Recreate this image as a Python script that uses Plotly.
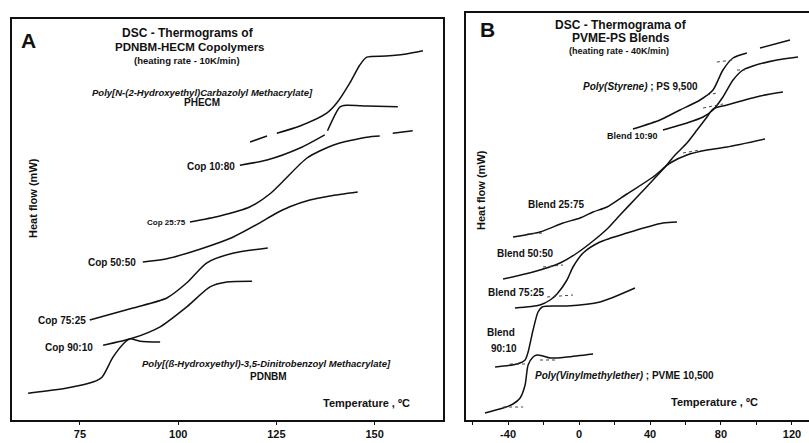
import plotly.graph_objects as go

# ---------------- Panel A : PDNBM / HECM copolymers (temperature in degC, heat flow arbitrary) ----
pdnbm_T = [61.8, 71.7, 78.3, 80.6, 83.4, 86.5, 87.7, 90.3, 95.4]
pdnbm_H = [6.2, 7.5, 9.0, 10.2, 15.2, 19.0, 19.8, 19.2, 19.0]

cop9010_T = [80.9, 88.5, 95.4, 102.2, 108.1, 112.4, 118.8]
cop9010_H = [18.2, 20.0, 22.8, 27.8, 32.8, 34.0, 34.2]

cop7525_T = [77.5, 88.5, 97.1, 102.2, 107.3, 113.9, 122.8]
cop7525_H = [24.5, 27.5, 30.0, 33.8, 38.8, 41.2, 42.5]

cop5050_T = [91.0, 97.1, 105.5, 113.9, 120.8, 124.6, 128.4, 133.5, 138.6, 145.7]
cop5050_H = [39.0, 39.8, 42.2, 45.2, 48.8, 51.0, 52.8, 54.5, 55.5, 56.5]

cop2575_T = [103.0, 110.6, 118.3, 123.3, 126.7, 132.8, 139.4, 148.0, 151.3, None, 154.6, 159.7]
cop2575_H = [49.0, 50.5, 52.8, 56.0, 59.2, 65.0, 68.2, 70.2, 70.5, None, 71.2, 71.8]

cop1080_T = [115.7, 122.6, 131.0, 137.3, None, 138.0, 141.2, 142.9, 148.0, 155.9]
cop1080_H = [63.2, 64.5, 67.5, 70.8, None, 71.8, 77.8, 78.2, 78.0, 77.8]

phecm_T = [118.3, 122.6, None, 125.1, 131.0, 137.8, 140.4, 143.7, 146.2, 148.0, 152.9, 158.0, 162.3]
phecm_H = [69.0, 70.5, None, 71.2, 73.0, 76.2, 78.8, 83.8, 88.2, 90.2, 90.5, 91.0, 91.8]

# ---------------- Panel B : PVME-PS blends ----------------
pvme_T = [-53.0, -42.8, -37.2, -33.2, -30.4, -28.7, -25.9, -23.7, -20.3, -16.3, -6.8, 7.9]
pvme_H = [1.75, 3.0, 4.0, 5.5, 8.75, 13.75, 15.75, 16.25, 16.0, 15.5, 15.75, 16.5]

b9010_T = [-47.3, -34.9, -30.4, -28.7, -25.9, -23.1, -20.8, -13.5, -6.8, 11.8, 31.5]
b9010_H = [13.25, 14.0, 15.0, 17.0, 22.5, 27.0, 28.25, 28.5, 28.5, 29.5, 33.0]

b7525_T = [-36.1, -22.0, -16.3, -12.4, -6.8, -3.4, 2.3, 11.8, 27.0, 47.3, 55.2]
b7525_H = [28.0, 28.75, 30.0, 31.5, 35.0, 38.25, 41.75, 44.5, 46.75, 49.25, 49.5]

b5050_T = [-42.8, -25.9, -10.7, -1.1, 7.9, 15.8, 23.1, 32.7, 41.7, 48.5, 54.1, 60.8, 66.5,
           72.1, 75.5, 83.4, 102.0, 114.9]
b5050_H = [35.25, 37.0, 39.25, 41.75, 44.75, 47.75, 51.25, 55.75, 60.0, 63.25, 66.25, 69.25,
           72.5, 75.75, 77.75, 78.75, 81.0, 82.0]

b2575_T = [-37.2, -22.0, -9.0, 0.6, 7.9, 15.8, 27.0, 41.7, 51.3, 60.8, 72.1, 83.4, 104.8]
b2575_H = [45.75, 47.0, 49.25, 50.5, 52.0, 53.25, 56.5, 60.75, 64.25, 66.25, 67.5, 68.25, 70.25]

b1090_T = [47.3, 60.8, 69.9, 75.5, 81.1, 86.8, 92.4, 98.0, 111.5, 123.4]
b1090_H = [72.5, 74.25, 75.75, 77.5, 80.75, 85.0, 87.5, 88.5, 90.0, 90.75]

ps_T = [30.4, 45.6, 56.9, 68.2, 75.5, 81.1, 86.8, 94.6, None, 102.0, 118.9]
ps_H = [72.75, 75.0, 77.5, 80.0, 82.5, 87.5, 90.5, 91.75, None, 93.0, 95.0]

# tangent (construction) lines drawn dotted in panel B
tang_T = [-42.8, -31.5, None, -22.0, -12.4, None, -38.9, -29.3, None, -18.0, -3.4, None,
          -20.3, -9.0, None, -29.3, -20.3, None, 58.6, 68.2, None, 69.9, 81.1, None,
          72.1, 77.7, None, 77.7, 86.8, None, 89.0, 93.5]
tang_H = [3.25, 3.25, None, 15.0, 15.0, None, 14.0, 14.0, None, 30.75, 31.25, None,
          38.25, 38.75, None, 46.5, 46.75, None, 66.75, 67.5, None, 78.0, 79.0, None,
          81.25, 81.75, None, 89.5, 90.0, None, 87.5, 87.5]

tickA = [75, 100, 125, 150]
tickB = [-40, 0, 40, 80, 120]
minorB = [-60, -20, 20, 60, 100]

W, H = 809, 443
FONT = "Liberation Sans, Arial, sans-serif"
INK = "#111111"

fig = go.Figure()

def curve(T, Hf, xa, ya):
    fig.add_trace(go.Scatter(x=T, y=Hf, mode="lines", xaxis=xa, yaxis=ya,
                             line=dict(color=INK, width=1.5, shape="spline", smoothing=0.7),
                             connectgaps=False, hoverinfo="skip"))

for T, Hf in [(pdnbm_T, pdnbm_H), (cop9010_T, cop9010_H), (cop7525_T, cop7525_H),
              (cop5050_T, cop5050_H), (cop2575_T, cop2575_H), (cop1080_T, cop1080_H),
              (phecm_T, phecm_H)]:
    curve(T, Hf, "x", "y")

for T, Hf in [(pvme_T, pvme_H), (b9010_T, b9010_H), (b7525_T, b7525_H), (b5050_T, b5050_H),
              (b2575_T, b2575_H), (b1090_T, b1090_H), (ps_T, ps_H)]:
    curve(T, Hf, "x2", "y2")

fig.add_trace(go.Scatter(x=tang_T, y=tang_H, mode="lines", xaxis="x2", yaxis="y2",
                         line=dict(color="#444", width=1, dash="dot"), connectgaps=False,
                         hoverinfo="skip"))

def px(x):
    return x / W

def py(y):
    return 1 - y / H

anns = []

def ann(text, x, y, size, xanchor="center", angle=0):
    anns.append(dict(text=text, x=px(x), y=py(y), xref="paper", yref="paper",
                     xanchor=xanchor, yanchor="middle", showarrow=False, textangle=angle,
                     font=dict(family=FONT, size=size, color=INK)))

# Panel A texts
ann("<b>A</b>", 28, 41, 21)
ann("<b>DSC - Thermograms of</b>", 188, 33, 12)
ann("<b>PDNBM-HECM Copolymers</b>", 190, 47, 11.5)
ann("<b>(heating rate - 10K/min)</b>", 187, 61, 9.5)
ann("<b><i>Poly[N-(2-Hydroxyethyl)Carbazolyl Methacrylate]</i></b>", 203, 92, 9.5)
ann("<b>PHECM</b>", 202, 103, 10)
ann("<b>Cop 10:80</b>", 237, 167, 10, "right")
ann("<b>Cop 25:75</b>", 188, 222, 8, "right")
ann("<b>Cop 50:50</b>", 138, 262, 10, "right")
ann("<b>Cop 75:25</b>", 88, 320, 10, "right")
ann("<b>Cop 90:10</b>", 95, 347, 10, "right")
ann("<b><i>Poly[(\u00df-Hydroxyethyl)-3,5-Dinitrobenzoyl Methacrylate]</i></b>", 266, 363, 9.5)
ann("<b>PDNBM</b>", 268, 376, 10)
ann("<b>Temperature , \u00baC</b>", 366, 403, 11)
ann("<b>Heat flow (mW)</b>", 33, 198, 11, angle=-90)

# Panel B texts
ann("<b>B</b>", 487, 30, 21)
ann("<b>DSC - Thermograma of</b>", 621, 25, 12)
ann("<b>PVME-PS Blends</b>", 621, 38, 12)
ann("<b>(heating rate - 40K/min)</b>", 619, 51, 9)
ann("<b><i>Poly(Styrene)</i> ; PS 9,500</b>", 700, 87, 10, "right")
ann("<b>Blend 10:90</b>", 632, 136, 9)
ann("<b>Blend 25:75</b>", 556, 204, 10)
ann("<b>Blend 50:50</b>", 525, 253, 10)
ann("<b>Blend 75:25</b>", 516, 292, 10)
ann("<b>Blend</b>", 501, 332, 10)
ann("<b>90:10</b>", 504, 348, 10)
ann("<b><i>Poly(Vinylmethylether)</i> ; PVME 10,500</b>", 533, 375, 10, "left")
ann("<b>Temperature , \u00baC</b>", 714, 402, 11)
ann("<b>Heat flow (mW)</b>", 481, 190, 11, angle=-90)

axis_common = dict(showgrid=False, zeroline=False, showline=True, linecolor=INK,
                   linewidth=1.5)

fig.update_layout(
    width=W, height=H, margin=dict(l=0, r=0, t=0, b=0),
    paper_bgcolor="white", plot_bgcolor="white", showlegend=False,
    font=dict(family=FONT, color=INK),
    annotations=anns,
    xaxis=dict(domain=[12 / W, 443 / W], range=[57.7, 167.4], mirror=True,
               tickvals=tickA, ticktext=[f"<b>{v}</b>" for v in tickA],
               ticks="outside", ticklen=3, tickcolor=INK,
               tickfont=dict(size=11, family=FONT, color=INK), anchor="y",
               **axis_common),
    yaxis=dict(domain=[(H - 420) / H, (H - 19) / H], range=[-0.5, 99.75], mirror=True,
               showticklabels=False, ticks="", anchor="x", **axis_common),
    xaxis2=dict(domain=[466 / W, 1.0], range=[-63.7, 129.6], mirror=True,
                tickvals=tickB, ticktext=[f"<b>{v}</b>" for v in tickB],
                ticks="outside", ticklen=3, tickcolor=INK,
                minor=dict(tickvals=minorB, ticks="outside", ticklen=3, tickcolor=INK),
                tickfont=dict(size=11, family=FONT, color=INK), anchor="y2",
                **axis_common),
    yaxis2=dict(domain=[(H - 420) / H, (H - 13) / H], range=[0, 101.75], mirror=False,
                showticklabels=False, ticks="", anchor="x2", **axis_common),
)

fig.write_html("out.html",
               config={"displayModeBar": False},
               post_script="document.body.style.margin='0';"
                           "document.body.style.overflow='hidden';")
